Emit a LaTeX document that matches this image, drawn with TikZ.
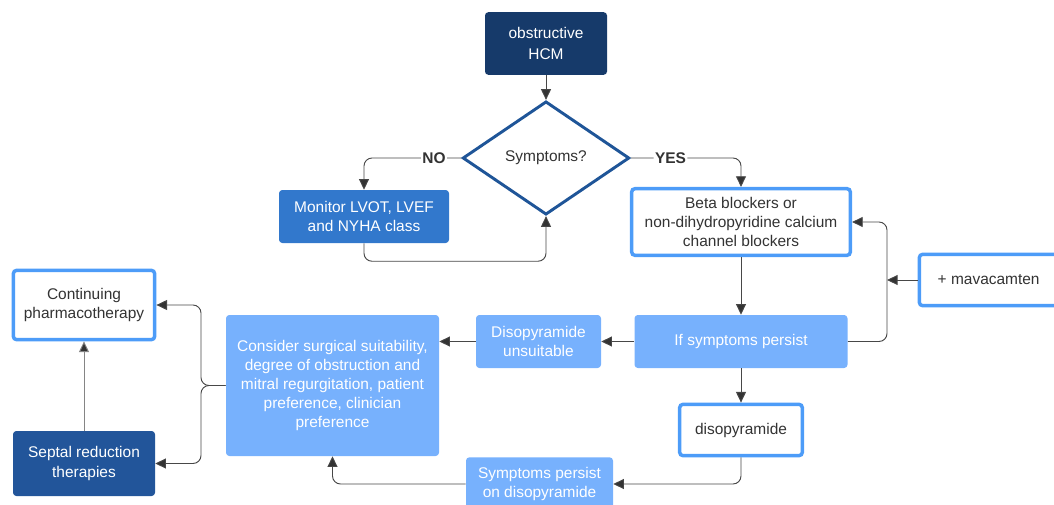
\documentclass[tikz,border=0pt]{standalone}
\usepackage{fontspec}
\setmainfont{Liberation Sans}
\usetikzlibrary{shapes.geometric, arrows.meta}

\definecolor{navy}{HTML}{163A6A}
\definecolor{deepblue}{HTML}{22559A}
\definecolor{midblue}{HTML}{3278CC}
\definecolor{lightfill}{HTML}{77B1FD}
\definecolor{rimblue}{HTML}{4D9CF8}
\definecolor{diamblue}{HTML}{1F5598}
\definecolor{ink}{HTML}{333333}

\begin{document}
\begin{tikzpicture}[
    x=0.75pt, y=-0.75pt,
    font=\fontsize{11.6}{14.3}\selectfont,
    box/.style={rectangle, rounded corners=2.5pt, align=center, inner sep=2pt},
    dark/.style={box, fill=navy, text=white},
    deep/.style={box, fill=deepblue, text=white},
    mid/.style={box, fill=midblue, text=white},
    soft/.style={box, fill=lightfill, text=white},
    rim/.style={box, fill=white, draw=rimblue, line width=2.6pt, text=ink},
    decide/.style={diamond, draw=diamblue, line width=2.2pt, fill=white, text=ink, inner sep=0pt, aspect=1.48},
    arr/.style={-{Triangle[length=8pt, width=7.5pt, fill=ink]}, draw=ink!90, line width=0.7pt, rounded corners=6pt},
    lbl/.style={fill=white, inner sep=1pt, font=\fontsize{11.6}{14}\selectfont\bfseries, text=ink}
]
    \useasboundingbox (0,0) rectangle (1054,504);

    % Top of the chart
    \node[dark, minimum width=91.5pt, minimum height=47pt] (hcm) at (546,43.5) {\raisebox{1.5pt}{obstructive}\\HCM};
    \node[decide, minimum width=125pt, minimum height=85pt] (sym) at (546,158) {Symptoms?};
    \node[mid, minimum width=127.5pt, minimum height=39.75pt] (mon) at (364,216.5) {Monitor LVOT, LVEF\\and NYHA class};
    \node[rim, minimum width=164pt, minimum height=50pt] (beta) at (741,222) {Beta blockers or\\non-dihydropyridine calcium\\channel blockers};
    \node[rim, minimum width=112pt, minimum height=38.5pt] (mav) at (994,280) {\hspace*{2pt}+ mavacamten\hspace*{10pt}};

    % Middle row
    \node[soft, minimum width=159.75pt, minimum height=39.75pt] (ifp) at (741,341.5) {If symptoms persist};
    \node[soft, minimum width=93.75pt, minimum height=39.75pt] (uns) at (538.5,341.5) {Disopyramide\\unsuitable};
    \node[soft, minimum width=159.75pt, minimum height=105.75pt] (con) at (332.5,385.5) {Consider surgical suitability,\\degree of obstruction and\\mitral regurgitation, patient\\preference, clinician\\preference};
    \node[rim, minimum width=106pt, minimum height=52pt] (cont) at (84,305) {Continuing\\pharmacotherapy};
    \node[deep, minimum width=106.5pt, minimum height=48.75pt] (sep) at (84,463.5) {Septal reduction\\therapies};

    % Bottom row
    \node[rim, minimum width=92pt, minimum height=38.5pt] (dis) at (741,430) {disopyramide};
    \node[soft, minimum width=110.25pt, minimum height=40pt] (spd) at (539.5,484) {Symptoms persist\\on disopyramide};

    % Junctions
    \coordinate (fbk) at (887,280);
    \coordinate (split) at (201,385.5);

    % Connectors
    \draw[arr] (hcm) -- (sym);
    \draw[arr] (sym.west) -| node[lbl, pos=0.14] {NO} (mon.north);
    \draw[arr] (sym.east) -| node[lbl, pos=0.18] {YES} (beta.north);
    \draw[arr] (mon.south) -- ++(0,18) -| (sym.south);
    \draw[arr] (beta) -- (ifp);
    \draw[arr] (ifp.east) -| (fbk) |- (beta.east);
    \draw[arr] (mav.west) -- (fbk);
    \draw[arr] (ifp) -- (uns);
    \draw[arr] (uns) -- (con.east |- uns);
    \draw[arr] (ifp) -- (dis);
    \draw[arr] (dis.south) |- (spd.east);
    \draw[arr] (spd.west) -| (con.south);
    \draw[arr] (con.west) -- (split) |- (cont.east);
    \draw[arr] (con.west) -- (split) |- (sep.east);
    \draw[arr, draw=ink!60] (sep) -- (cont);
\end{tikzpicture}
\end{document}
